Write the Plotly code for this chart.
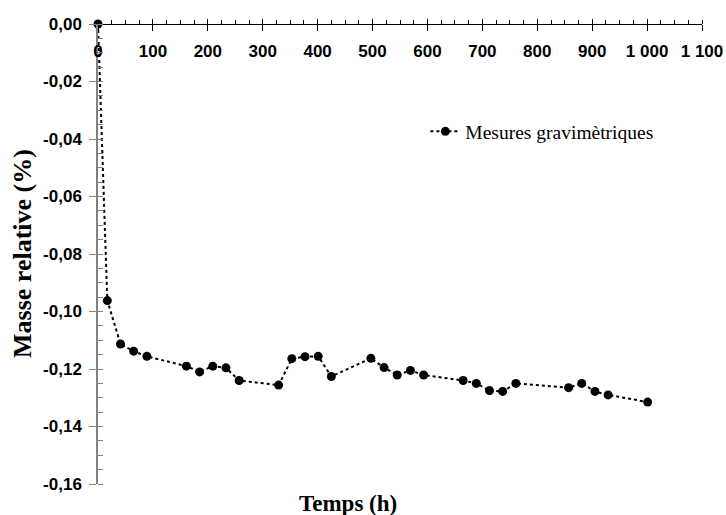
import plotly.graph_objects as go

# Temps (h) et masse relative (%)
temps = [0, 17, 41, 65, 89, 161, 185, 209, 233, 257,
         329, 353, 377, 401, 425, 497, 521, 545, 569, 593,
         665, 689, 713, 737, 761, 857, 881, 905, 929, 1001]
masse = [0.0, -0.0962, -0.1113, -0.1138, -0.1156, -0.1190, -0.1210, -0.1190, -0.1196, -0.1240,
         -0.1256, -0.1164, -0.1157, -0.1156, -0.1226, -0.1163, -0.1195, -0.1221, -0.1205, -0.1221,
         -0.1240, -0.1250, -0.1275, -0.1278, -0.1250, -0.1265, -0.1250, -0.1278, -0.1290, -0.1315]

x_ticks = [0, 100, 200, 300, 400, 500, 600, 700, 800, 900, 1000, 1100]
x_labels = ["0", "100", "200", "300", "400", "500", "600", "700", "800", "900", "1 000", "1 100"]
y_ticks = [0, -0.02, -0.04, -0.06, -0.08, -0.10, -0.12, -0.14, -0.16]
y_labels = ["0,00", "-0,02", "-0,04", "-0,06", "-0,08", "-0,10", "-0,12", "-0,14", "-0,16"]

tick_font = dict(family="Liberation Sans, Arial", size=17, color="black", weight="bold")
serif = "Liberation Serif, Times New Roman"

fig = go.Figure()

fig.add_trace(go.Scatter(
    x=temps, y=masse,
    mode="lines+markers",
    name="Mesures gravimètriques",
    line=dict(color="black", width=2, dash="dot"),
    marker=dict(color="black", size=9),
    cliponaxis=False,
))

# axe x en haut (y = 0), étiquettes en dessous
fig.update_layout(
    xaxis=dict(
        range=[0, 1100], anchor="free", position=1, side="bottom", automargin=False,
        showline=True, linecolor="black", linewidth=1.2,
        showgrid=False, zeroline=False,
        tickmode="array", tickvals=x_ticks, ticktext=x_labels,
        ticks="outside", ticklen=6, tickwidth=1.2, tickcolor="black",
        ticklabelstandoff=5,
        tickfont=tick_font,
        minor=dict(dtick=25, tick0=0, ticks="inside", ticklen=4, tickcolor="black", tickwidth=1),
    ),
    xaxis2=dict(
        range=[0, 1100], anchor="free", position=1, side="bottom", overlaying="x", automargin=False,
        showline=False, showgrid=False, zeroline=False, showticklabels=False,
        tickmode="array", tickvals=x_ticks,
        ticks="inside", ticklen=5, tickwidth=1.2, tickcolor="black",
    ),
    yaxis=dict(
        range=[-0.16, 0], anchor="x", automargin=False,
        showline=True, linecolor="#808080", linewidth=1.5,
        showgrid=False, zeroline=False,
        tickmode="array", tickvals=y_ticks, ticktext=y_labels,
        ticks="outside", ticklen=7, tickwidth=1.2, tickcolor="#808080",
        ticklabelstandoff=4,
        tickfont=tick_font,
        minor=dict(dtick=0.005, tick0=0, ticks="inside", ticklen=5, tickcolor="#808080", tickwidth=1),
    ),
    legend=dict(
        x=0.542, y=0.766, xanchor="left", yanchor="middle",
        font=dict(family=serif, size=19.5, color="black"),
        bgcolor="rgba(0,0,0,0)",
    ),
    showlegend=True,
    plot_bgcolor="white",
    paper_bgcolor="white",
    width=726, height=515,
    margin=dict(l=98, r=24, t=24, b=31, autoexpand=False),
    annotations=[
        dict(text="Temps (h)", xref="paper", yref="paper", x=0.414, y=-0.0,
             yshift=-19, xanchor="center", yanchor="middle", showarrow=False,
             font=dict(family=serif, size=23, color="black", weight="bold")),
        dict(text="Masse relative (%)", xref="paper", yref="paper", x=0, y=0.5,
             xshift=-76, xanchor="center", yanchor="middle", textangle=-90, showarrow=False,
             font=dict(family=serif, size=26, color="black", weight="bold")),
    ],
)

# trace invisible pour activer xaxis2
fig.add_trace(go.Scatter(x=[0], y=[0], xaxis="x2", mode="markers",
                         marker=dict(opacity=0), showlegend=False, hoverinfo="skip"))

fig.write_html("out.html", config={"displayModeBar": False},
               post_script="document.body.style.margin='0';")
